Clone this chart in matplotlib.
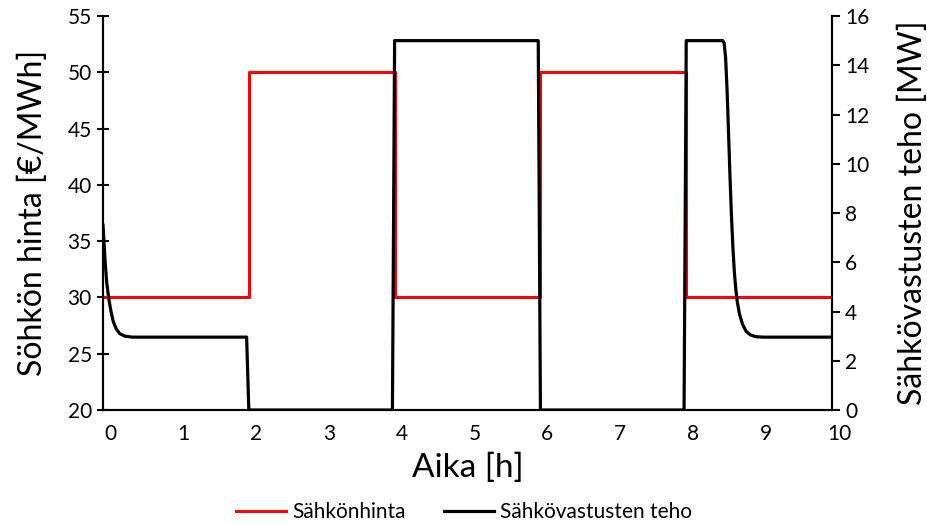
import matplotlib.pyplot as plt
import matplotlib.transforms as mtransforms

plt.rcParams['font.family'] = ['Lato', 'DejaVu Sans']

# Sähkön hinta (step)
price_t = [0, 2, 2, 4, 4, 6, 6, 8, 8, 10]
price = [30, 30, 50, 50, 30, 30, 50, 50, 30, 30]

# Sähkövastusten teho
power_t = [0, 0.01, 0.03, 0.05, 0.08, 0.11, 0.14, 0.18, 0.23, 0.3, 0.4,
           1.97, 2.0, 3.97, 4.0, 5.97, 6.0, 7.97, 8.0,
           8.5, 8.52, 8.54, 8.56, 8.58, 8.6, 8.62, 8.64, 8.66, 8.68, 8.7,
           8.73, 8.77, 8.82, 8.88, 8.95, 9.05, 10]
power = [7.5, 7.0, 6.0, 5.2, 4.5, 4.0, 3.6, 3.3, 3.1, 3.0, 2.96,
         2.96, 0, 0, 15, 15, 0, 0, 15,
         15, 14.9, 14.3, 13.0, 11.3, 9.5, 7.9, 6.6, 5.6, 4.9, 4.4,
         3.9, 3.5, 3.2, 3.05, 2.98, 2.96, 2.96]

fig = plt.figure(figsize=(9.28, 5.25), dpi=100)
ax = fig.add_axes([0.111, 0.219, 0.7856, 0.7505])
ax2 = ax.twinx()

l1, = ax.plot(price_t, price, color='#ff0000', lw=2.2, label='Sähkönhinta')
l2, = ax2.plot(power_t, power, color='black', lw=2.3, label='Sähkövastusten teho')

ax.set_xlim(0, 10)
ax.set_ylim(20, 55)
ax2.set_ylim(0, 16)
ax.set_xticks(range(0, 11))
ax.set_yticks(range(20, 56, 5))
ax2.set_yticks(range(0, 17, 2))

for a in (ax, ax2):
    for s in a.spines.values():
        s.set_linewidth(1.5)
ax.spines['top'].set_visible(False)
ax2.spines['top'].set_visible(False)

ax.tick_params(axis='x', length=0, labelsize=15, pad=10)
ax.tick_params(axis='y', direction='inout', length=9, width=1.5, labelsize=15)
ax2.tick_params(axis='y', direction='out', length=6, width=1.5, labelsize=15)

off = mtransforms.ScaledTranslation(7 / 100, 0, fig.dpi_scale_trans)
for lab in ax.get_xticklabels():
    lab.set_transform(lab.get_transform() + off)

ax.set_xlabel('Aika [h]', fontsize=24, labelpad=6)
ax.set_ylabel('Söhkön hinta [€/MWh]', fontsize=23, labelpad=14)
ax2.set_ylabel('Sähkövastusten teho [MW]', fontsize=23, labelpad=20)

fig.legend(handles=[l1, l2], loc='lower center', bbox_to_anchor=(0.5, -0.03),
           ncol=2, frameon=False, fontsize=15, handlelength=2.4,
           handletextpad=0.3, columnspacing=1.8)

fig.savefig('out.png', dpi=100)
